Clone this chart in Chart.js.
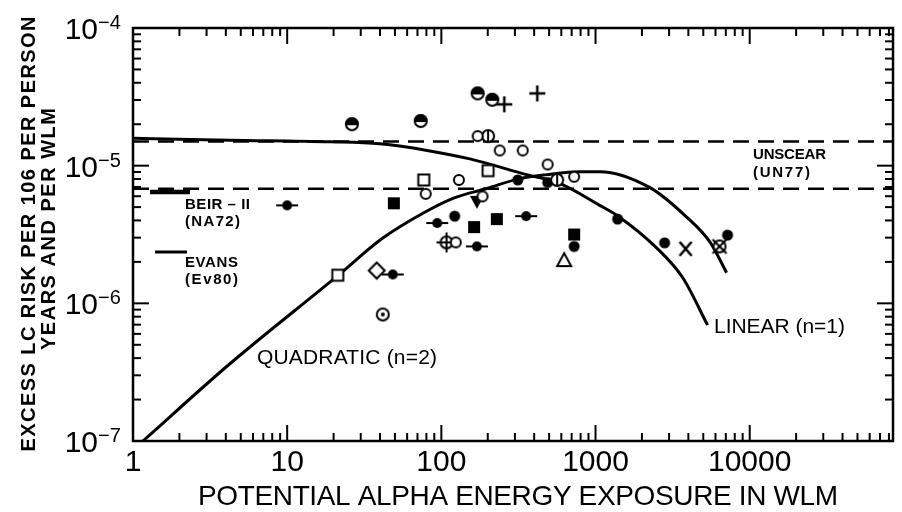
<!DOCTYPE html>
<html>
<head>
<meta charset="utf-8">
<script src="https://cdn.jsdelivr.net/npm/chart.js@4.4.1/dist/chart.umd.min.js"></script>
<style>
  html, body { margin: 0; padding: 0; background: #fff; }
</style>
</head>
<body>
<canvas id="chart" width="902" height="512"></canvas>
<script>
// axis ranges and labels
const xRange = [1, 85000];
const yRange = [1e-7, 1e-4];
const xTickValues = [1, 10, 100, 1000, 10000];
const yTickExponents = [-4, -5, -6, -7];

// model curves (WLM, risk per WLM)
const linearWLM = [1, 4.25, 18.9, 39.9, 84.1, 153, 357, 585, 1064, 1371, 2490, 3672, 5330];
const linearRisk = [1.58e-5, 1.53e-5, 1.49e-5, 1.44e-5, 1.28e-5, 1.12e-5, 8.61e-6, 7.43e-6, 5.15e-6, 4.37e-6, 2.53e-6, 1.54e-6, 6.95e-7];
const quadWLM = [1.16, 4.25, 21.3, 41.7, 78, 119, 197, 322, 482, 789, 1064, 2243, 3837, 5570, 7080];
const quadRisk = [1.0e-7, 3.64e-7, 1.59e-6, 2.98e-6, 4.59e-6, 5.79e-6, 6.83e-6, 8.05e-6, 8.61e-6, 9.05e-6, 9.05e-6, 6.95e-6, 4.30e-6, 2.75e-6, 1.67e-6];
const unscearRisk = 1.5e-5;
const beirRisk = 6.8e-6;

// observed points, one pair of arrays per symbol
const halfCircleWLM = [26.3, 73.5, 172, 214];
const halfCircleRisk = [2.0e-5, 2.11e-5, 3.35e-5, 3.01e-5];
const plusWLM = [256, 419];
const plusRisk = [2.79e-5, 3.35e-5];
const openCircleWLM = [172, 239, 337, 489, 727, 130, 79.2, 185, 124];
const openCircleRisk = [1.64e-5, 1.29e-5, 1.29e-5, 1.02e-5, 8.3e-6, 7.87e-6, 6.24e-6, 5.98e-6, 2.77e-6];
const barCircleWLM = [201, 564];
const barCircleRisk = [1.64e-5, 7.87e-6];
const openSquareWLM = [21.3, 76.9, 201];
const openSquareRisk = [1.6e-6, 7.87e-6, 9.2e-6];
const filledSquareWLM = [49.2, 163, 229, 727];
const filledSquareRisk = [5.33e-6, 3.58e-6, 4.09e-6, 3.16e-6];
const filledCircleWLM = [122, 313, 489, 727, 1390, 2805, 7180];
const filledCircleRisk = [4.3e-6, 7.87e-6, 7.55e-6, 2.59e-6, 4.09e-6, 2.75e-6, 3.13e-6];
const barDotWLM = [10, 48.4, 94, 170, 355];
const barDotRisk = [5.15e-6, 1.62e-6, 3.83e-6, 2.59e-6, 4.3e-6];
const downTriangleWLM = [170];
const downTriangleRisk = [5.46e-6];
const openTriangleWLM = [626];
const openTriangleRisk = [2.06e-6];
const openDiamondWLM = [38.1];
const openDiamondRisk = [1.73e-6];
const dotCircleWLM = [41.7];
const dotCircleRisk = [8.3e-7];
const crossCircleWLM = [108];
const crossCircleRisk = [2.77e-6];
const xMarkWLM = [3837];
const xMarkRisk = [2.49e-6];
const circleXWLM = [6370];
const circleXRisk = [2.59e-6];

const FONT = '"Liberation Sans", Arial, sans-serif';

// little canvases used as point styles
function symbol(draw) {
  const c = document.createElement('canvas');
  c.width = 28; c.height = 28;
  const g = c.getContext('2d');
  g.translate(14, 14);
  g.lineWidth = 2;
  g.strokeStyle = '#000';
  g.fillStyle = '#000';
  draw(g);
  return c;
}
function ring(g, r) {
  g.beginPath(); g.arc(0, 0, r, 0, Math.PI * 2);
  g.fillStyle = '#fff'; g.fill(); g.stroke(); g.fillStyle = '#000';
}
function seg(g, x1, y1, x2, y2) {
  g.beginPath(); g.moveTo(x1, y1); g.lineTo(x2, y2); g.stroke();
}
function poly(g, pts, fill) {
  g.beginPath(); g.moveTo(pts[0][0], pts[0][1]);
  pts.slice(1).forEach(p => g.lineTo(p[0], p[1]));
  g.closePath();
  if (fill) { g.fill(); } else { g.fillStyle = '#fff'; g.fill(); g.stroke(); g.fillStyle = '#000'; }
}

const symbols = {
  openCircle: symbol(g => ring(g, 5)),
  halfCircle: symbol(g => {
    ring(g, 6);
    g.beginPath(); g.arc(0, 0, 6, Math.PI, 0); g.closePath(); g.fill(); g.stroke();
  }),
  barCircle: symbol(g => { ring(g, 6); seg(g, 0, -6, 0, 6); }),
  openSquare: symbol(g => { g.fillStyle = '#fff'; g.fillRect(-5.5, -5.5, 11, 11); g.strokeRect(-5.5, -5.5, 11, 11); }),
  filledSquare: symbol(g => g.fillRect(-6, -6, 12, 12)),
  filledCircle: symbol(g => { g.beginPath(); g.arc(0, 0, 5.5, 0, Math.PI * 2); g.fill(); }),
  barDot: symbol(g => { seg(g, -11, 0, 11, 0); g.beginPath(); g.arc(0, 0, 5, 0, Math.PI * 2); g.fill(); }),
  plus: symbol(g => { g.lineWidth = 2.5; seg(g, -8, 0, 8, 0); seg(g, 0, -8, 0, 8); }),
  downTriangle: symbol(g => poly(g, [[-7, -6], [7, -6], [0, 7]], true)),
  openTriangle: symbol(g => poly(g, [[-7, 6], [7, 6], [0, -7]], false)),
  openDiamond: symbol(g => poly(g, [[0, -8], [8, 0], [0, 8], [-8, 0]], false)),
  dotCircle: symbol(g => { ring(g, 6); g.beginPath(); g.arc(0, 0, 2, 0, Math.PI * 2); g.fill(); }),
  crossCircle: symbol(g => { ring(g, 6); seg(g, -10, 0, 10, 0); seg(g, 0, -10, 0, 10); }),
  xMark: symbol(g => { g.lineWidth = 2.5; seg(g, -6, -7, 6, 7); seg(g, -6, 7, 6, -7); }),
  circleX: symbol(g => { ring(g, 6); seg(g, -7, -7, 7, 7); seg(g, -7, 7, 7, -7); })
};

function points(xs, ys) {
  return xs.map((x, i) => ({ x: x, y: ys[i] }));
}

const markerSets = [
  ['halfCircle', halfCircleWLM, halfCircleRisk],
  ['plus', plusWLM, plusRisk],
  ['openCircle', openCircleWLM, openCircleRisk],
  ['barCircle', barCircleWLM, barCircleRisk],
  ['openSquare', openSquareWLM, openSquareRisk],
  ['filledSquare', filledSquareWLM, filledSquareRisk],
  ['filledCircle', filledCircleWLM, filledCircleRisk],
  ['barDot', barDotWLM, barDotRisk],
  ['downTriangle', downTriangleWLM, downTriangleRisk],
  ['openTriangle', openTriangleWLM, openTriangleRisk],
  ['openDiamond', openDiamondWLM, openDiamondRisk],
  ['dotCircle', dotCircleWLM, dotCircleRisk],
  ['crossCircle', crossCircleWLM, crossCircleRisk],
  ['xMark', xMarkWLM, xMarkRisk],
  ['circleX', circleXWLM, circleXRisk]
];

const datasets = markerSets.map(([name, xs, ys]) => ({
  label: name,
  data: points(xs, ys),
  pointStyle: symbols[name],
  pointRadius: 8,
  showLine: false,
  order: 1
}));

function curve(label, xs, ys, extra) {
  return Object.assign({
    label: label,
    data: points(xs, ys),
    showLine: true,
    pointRadius: 0,
    borderColor: '#000',
    borderWidth: 3,
    cubicInterpolationMode: 'monotone',
    fill: false,
    order: 2
  }, extra);
}

datasets.push(curve('LINEAR (n=1)', linearWLM, linearRisk));
datasets.push(curve('QUADRATIC (n=2)', quadWLM, quadRisk));
datasets.push(curve('UNSCEAR', xRange, [unscearRisk, unscearRisk], { borderWidth: 2.5, borderDash: [16, 9], cubicInterpolationMode: 'default', tension: 0 }));
datasets.push(curve('BEIR-II', xRange, [beirRisk, beirRisk], { borderWidth: 2.5, borderDash: [16, 9], cubicInterpolationMode: 'default', tension: 0 }));

// letter-spaced text so the lettering fills the same width as the figure
function spaced(ctx, text, x, y, font, width, align) {
  ctx.font = font;
  ctx.letterSpacing = '0px';
  const w = ctx.measureText(text).width;
  const s = (width - w) / (text.length - 1);
  ctx.letterSpacing = s + 'px';
  ctx.textAlign = 'left';
  ctx.textBaseline = 'middle';
  ctx.fillText(text, align === 'center' ? x - width / 2 : x, y);
  ctx.letterSpacing = '0px';
}

function line(ctx, x1, y1, x2, y2) {
  ctx.beginPath(); ctx.moveTo(x1, y1); ctx.lineTo(x2, y2); ctx.stroke();
}

const decor = {
  id: 'decor',
  afterDraw(chart) {
    const { ctx, chartArea: a, scales: { x, y } } = chart;
    ctx.save();
    ctx.strokeStyle = '#000';
    ctx.fillStyle = '#000';

    // frame
    ctx.lineWidth = 2.5;
    ctx.strokeRect(a.left, a.top, a.right - a.left, a.bottom - a.top);

    // inward log ticks on all four sides
    ctx.lineWidth = 2;
    for (let k = 0; k <= 4; k++) {
      for (let m = 1; m <= 9; m++) {
        const v = m * Math.pow(10, k);
        if (v > xRange[1]) continue;
        const px = x.getPixelForValue(v);
        const len = m === 1 ? 16 : 8;
        line(ctx, px, a.bottom, px, a.bottom - len);
        line(ctx, px, a.top, px, a.top + len);
      }
    }
    for (let k = -7; k <= -5; k++) {
      for (let m = 1; m <= 9; m++) {
        const py = y.getPixelForValue(m * Math.pow(10, k));
        const len = m === 1 ? 16 : 8;
        line(ctx, a.left, py, a.left + len, py);
        line(ctx, a.right, py, a.right - len, py);
      }
    }

    // y tick labels 10^-n
    yTickExponents.forEach(e => {
      const py = y.getPixelForValue(Math.pow(10, e));
      ctx.textBaseline = 'alphabetic';
      ctx.font = '30px ' + FONT;
      ctx.textAlign = 'right';
      ctx.fillText('10', a.left - 35, py + 11);
      ctx.font = '20px ' + FONT;
      ctx.textAlign = 'left';
      ctx.fillText('\u2212' + Math.abs(e), a.left - 35, py + 1);
    });

    // y title, two rotated lines
    ctx.save();
    ctx.translate(29, 234);
    ctx.rotate(-Math.PI / 2);
    spaced(ctx, 'EXCESS LC RISK PER 106 PER PERSON', 0, 0, 'bold 20px ' + FONT, 435, 'center');
    ctx.restore();
    ctx.save();
    ctx.translate(49, 229);
    ctx.rotate(-Math.PI / 2);
    spaced(ctx, 'YEARS AND PER WLM', 0, 0, 'bold 20px ' + FONT, 242, 'center');
    ctx.restore();

    // x title
    spaced(ctx, 'POTENTIAL ALPHA ENERGY EXPOSURE IN WLM', 518, 497, '28px ' + FONT, 640, 'center');

    // curve labels
    spaced(ctx, 'QUADRATIC (n=2)', 257, 358, '21px ' + FONT, 180);
    spaced(ctx, 'LINEAR (n=1)', 714, 327, '21px ' + FONT, 131);

    // source labels
    const bold = 'bold 15px ' + FONT;
    spaced(ctx, 'UNSCEAR', 753, 155, bold, 73);
    spaced(ctx, '(UN77)', 753, 173, bold, 57);
    spaced(ctx, 'BEIR \u2013 II', 185, 205, bold, 65);
    spaced(ctx, '(NA72)', 185, 222, bold, 55);
    spaced(ctx, 'EVANS', 185, 263, bold, 53);
    spaced(ctx, '(Ev80)', 185, 280, bold, 53);

    // key strokes beside the source labels
    ctx.lineWidth = 4.5;
    line(ctx, 150, 192, 190, 192);
    ctx.lineWidth = 3;
    line(ctx, 155, 252, 187, 252);

    ctx.restore();
  }
};

new Chart(document.getElementById('chart'), {
  type: 'scatter',
  data: { datasets: datasets },
  options: {
    responsive: false,
    animation: false,
    layout: { padding: { left: 133, top: 28, right: 7, bottom: 27 } },
    plugins: { legend: { display: false }, tooltip: { enabled: false } },
    scales: {
      x: {
        type: 'logarithmic',
        min: xRange[0],
        max: xRange[1],
        grid: { display: false, drawTicks: false },
        border: { display: false },
        afterBuildTicks: s => { s.ticks = xTickValues.map(v => ({ value: v })); },
        ticks: {
          callback: v => String(v),
          font: { family: FONT, size: 30, lineHeight: 1.2 },
          color: '#000',
          padding: 4,
          maxRotation: 0,
          autoSkip: false
        }
      },
      y: {
        type: 'logarithmic',
        min: yRange[0],
        max: yRange[1],
        grid: { display: false, drawTicks: false },
        border: { display: false },
        ticks: { display: false }
      }
    }
  },
  plugins: [decor]
});
</script>
</body>
</html>
